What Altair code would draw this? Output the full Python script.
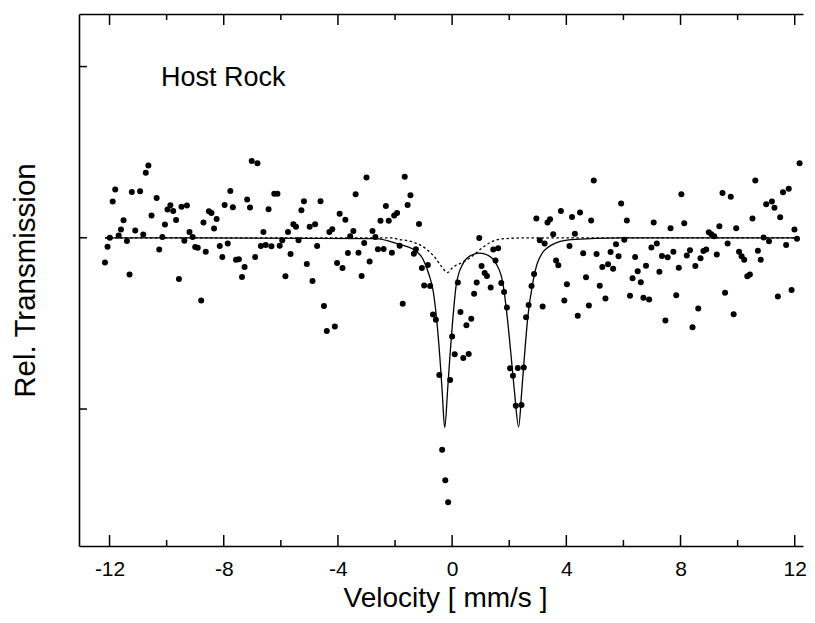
import altair as alt
import pandas as pd

# ---- measured spectrum (velocity in mm/s, transmission relative to baseline, arbitrary units) ----
velocity = [
    -12.16, -12.07, -11.99, -11.89, -11.80, -11.68, -11.60, -11.51, -11.39, -11.30,
    -11.22, -11.10, -10.93, -10.82, -10.73, -10.64, -10.53, -10.35, -10.26, -10.15,
    -10.06, -9.97, -9.87, -9.77, -9.67, -9.57, -9.48, -9.38, -9.29, -9.20,
    -9.09, -9.00, -8.91, -8.79, -8.71, -8.63, -8.52, -8.43, -8.34, -8.25,
    -8.14, -8.05, -7.97, -7.86, -7.77, -7.68, -7.57, -7.47, -7.36, -7.27,
    -7.18, -7.08, -7.02, -6.90, -6.82, -6.70, -6.61, -6.53, -6.43, -6.33,
    -6.23, -6.12, -6.04, -5.95, -5.84, -5.75, -5.66, -5.56, -5.47, -5.38,
    -5.28, -5.19, -5.09, -4.99, -4.89, -4.80, -4.73,
    -4.61, -4.49, -4.39, -4.30, -4.20, -4.11, -4.03, -3.94, -3.84, -3.74,
    -3.65, -3.57, -3.46, -3.38, -3.28, -3.17, -3.08, -3.00, -2.89, -2.79,
    -2.69, -2.60, -2.51, -2.40, -2.32, -2.22, -2.11, -2.03, -1.93, -1.84,
    -1.73, -1.66, -1.56, -1.46, -1.34, -1.27, -1.16, -1.06, -0.98, -0.85,
    -0.77, -0.67, -0.57, -0.45, -0.35, -0.24, -0.14, -0.07, 0.00, 0.09,
    0.20, 0.29, 0.39, 0.50, 0.58, 0.67, 0.77, 0.86, 0.95, 1.03,
    1.14, 1.22, 1.35, 1.44, 1.52, 1.61, 1.72, 1.82, 1.92, 2.03,
    2.13, 2.23, 2.30, 2.43, 2.51, 2.59, 2.68, 2.78, 2.87, 2.95,
    3.07, 3.17, 3.24, 3.34, 3.43, 3.54, 3.64,
    3.72, 3.81, 3.93, 4.02, 4.11, 4.20, 4.30, 4.40, 4.48, 4.59,
    4.69, 4.79, 4.87, 4.96, 5.06, 5.17, 5.26, 5.37, 5.46, 5.55,
    5.64, 5.74, 5.83, 5.92, 6.03, 6.12, 6.23, 6.32, 6.41, 6.50,
    6.61, 6.70, 6.79, 6.90, 6.98, 7.06, 7.17, 7.26, 7.35, 7.47,
    7.55, 7.65, 7.75, 7.85, 7.94, 8.03, 8.13, 8.22, 8.33, 8.42,
    8.52, 8.62, 8.70, 8.80, 8.90, 8.99, 9.08, 9.18, 9.27, 9.36,
    9.47, 9.56, 9.65, 9.76, 9.86, 9.95, 10.05, 10.14, 10.23, 10.34,
    10.43, 10.52, 10.62, 10.71, 10.81, 10.91, 11.00, 11.10, 11.20, 11.29,
    11.41, 11.49, 11.59, 11.70, 11.79, 11.89, 11.99, 12.08, 12.17,
]
transmission = [
    -0.145, -0.052, 0.000, 0.212, 0.282, 0.013, 0.048, 0.102, -0.019, -0.214,
    0.268, 0.042, 0.272, 0.019, 0.380, 0.422, 0.130, 0.233, -0.069, 0.005,
    0.077, 0.165, 0.190, 0.157, 0.104, -0.241, 0.182, -0.017, 0.188, 0.034,
    0.005, -0.054, -0.058, -0.366, 0.089, -0.081, 0.155, 0.145, 0.054, 0.110,
    -0.048, -0.112, 0.192, -0.034, 0.274, 0.179, -0.128, -0.126, -0.229, -0.171,
    0.223, 0.177, 0.448, -0.112, 0.436, -0.048, 0.034, -0.042, 0.167, -0.050,
    0.257, 0.257, -0.046, -0.015, -0.225, 0.034, -0.095, 0.079, 0.065, -0.015,
    0.161, 0.214, -0.153, 0.065, -0.253, 0.079, -0.048,
    0.214, -0.399, -0.544, 0.034, 0.050, -0.518, -0.147, 0.141, -0.177, 0.106,
    -0.089, 0.009, 0.040, 0.255, -0.087, -0.223, -0.030, 0.352, -0.138, 0.040,
    0.005, -0.067, 0.099, -0.065, 0.186, 0.099, -0.087, 0.130, 0.145, -0.046,
    -0.385, 0.356, 0.192, 0.249, -0.093, -0.067, 0.081, -0.177, -0.278, -0.159,
    -0.282, -0.448, -0.479, -0.801, -1.238, -1.416, -1.545, -0.830, -0.577, -0.680,
    -0.261, -0.434, -0.702, -0.511, -0.678, -0.473, -0.327, -0.261, -0.001, -0.165,
    -0.206, -0.223, -0.290, -0.069, -0.132, -0.061, -0.264, -0.317, -0.407, -0.762,
    -0.805, -0.981, -0.760, -0.977, -0.758, -0.464, -0.393, -0.282, -0.212, 0.112,
    -0.015, -0.401, -0.034, 0.089, 0.108, 0.020, -0.132,
    -0.161, 0.157, -0.366, -0.272, -0.048, 0.122, 0.024, -0.456, 0.147, -0.091,
    -0.231, -0.395, 0.101, 0.335, -0.095, -0.280, -0.171, -0.354, -0.155, -0.083,
    -0.181, -0.038, -0.108, 0.200, -0.011, 0.101, -0.339, -0.237, -0.112, -0.196,
    -0.259, -0.350, -0.163, -0.360, -0.056, 0.089, -0.034, -0.198, -0.106, -0.483,
    -0.114, 0.056, -0.081, -0.335, -0.175, 0.255, 0.085, -0.104, -0.073, -0.522,
    -0.165, -0.413, -0.120, -0.077, -0.069, 0.032, 0.020, 0.009, -0.097, 0.067,
    0.261, -0.321, -0.034, 0.239, -0.446, 0.056, -0.081, -0.108, -0.128, -0.225,
    -0.214, 0.112, 0.335, -0.075, -0.128, 0.001, 0.196, -0.020, 0.212, 0.175,
    -0.343, 0.120, 0.266, -0.042, 0.286, -0.305, 0.048, -0.005, 0.436,
]

# ---- fitted envelope (solid) ----
fit_velocity = [
    -12.16, -2.69, -1.85, -1.38, -1.02, -0.82, -0.66, -0.55, -0.43, -0.35,
    -0.26, -0.16, -0.08, 0.01, 0.15, 0.38, 0.67, 0.96, 1.25, 1.54,
    1.78, 1.93, 2.07, 2.18, 2.33, 2.44, 2.53, 2.65, 2.82, 3.00,
    3.46, 4.16, 5.90, 12.10,
]
fit_transmission = [
    0.0, -0.005, -0.038, -0.066, -0.125, -0.21, -0.315, -0.463, -0.698, -0.893,
    -1.108, -0.893, -0.698, -0.503, -0.268, -0.151, -0.102, -0.089, -0.102, -0.151,
    -0.268, -0.463, -0.698, -0.893, -1.104, -0.893, -0.698, -0.463, -0.268, -0.141,
    -0.044, -0.011, 0.0, 0.0,
]

# ---- minor subspectrum (dashed) ----
sub_velocity = [-12.16, -2.11, -1.88, -1.42, -0.95, -0.60, -0.37, -0.16, 0.03, 0.27,
                0.67, 1.02, 1.37, 1.84, 2.76, 12.10]
sub_transmission = [0.0, 0.0, -0.009, -0.022, -0.060, -0.115, -0.168, -0.203, -0.171, -0.151,
                    -0.112, -0.063, -0.024, -0.005, 0.0, 0.0]

major_ticks = [-12, -8, -4, 0, 4, 8, 12]
minor_ticks = [-10, -6, -2, 2, 6, 10]
y_ticks = [-1, 0, 1]

W, H = 724, 532
X_DOMAIN = [-13.07, 12.29]
Y_DOMAIN = [-1.80, 1.307]
FONT = "Liberation Sans"

n = min(len(velocity), len(transmission))
pts = pd.DataFrame({"v": velocity[:n], "t": transmission[:n]})
fit = pd.DataFrame({"v": fit_velocity, "t": fit_transmission})
sub = pd.DataFrame({"v": sub_velocity, "t": sub_transmission})
maj = pd.DataFrame({"v": major_ticks})
mnr = pd.DataFrame({"v": minor_ticks})
yt = pd.DataFrame({"t": y_ticks})

xs = alt.Scale(domain=X_DOMAIN, nice=False, zero=False)
ys = alt.Scale(domain=Y_DOMAIN, nice=False, zero=False)

x_axis = alt.Axis(
    values=major_ticks, labelExpr="'' + datum.value", ticks=False, grid=False,
    domain=True, domainColor="black", domainWidth=1.6,
    labelFont=FONT, labelFontSize=21, labelColor="black", labelPadding=12,
    title="Velocity [ mm/s ]", titleFont=FONT, titleFontSize=28,
    titleFontWeight="normal", titleColor="black",
    titleX=366, titleY=52, titleBaseline="middle", titleAlign="center",
)
y_axis = alt.Axis(
    labels=False, ticks=False, grid=False, domain=True, domainColor="black",
    domainWidth=1.6, title="Rel. Transmission", titleFont=FONT, titleFontSize=29.5,
    titleFontWeight="normal", titleColor="black", titleAngle=270,
    titleX=-54, titleY=266, titleBaseline="middle", titleAlign="center",
)
top_axis = alt.Axis(orient="top", labels=False, ticks=False, grid=False, domain=True,
                    domainColor="black", domainWidth=1.6, title=None)

points = alt.Chart(pts).mark_circle(size=36, color="black", opacity=1).encode(
    x=alt.X("v:Q", scale=xs, axis=x_axis),
    y=alt.Y("t:Q", scale=ys, axis=y_axis),
)
fit_line = alt.Chart(fit).mark_line(color="black", strokeWidth=1.3, interpolate="monotone").encode(
    x=alt.X("v:Q", scale=xs, axis=None), y=alt.Y("t:Q", scale=ys, axis=None))
sub_line = alt.Chart(sub).mark_line(color="black", strokeWidth=1.3, strokeDash=[2.5, 2.5],
                                    interpolate="monotone").encode(
    x=alt.X("v:Q", scale=xs, axis=None), y=alt.Y("t:Q", scale=ys, axis=None))

tick_style = dict(color="black", strokeWidth=1.5)
bot_major = alt.Chart(maj).mark_rule(**tick_style).encode(
    x=alt.X("v:Q", scale=xs, axis=None), y=alt.value(H), y2=alt.value(H - 11))
top_major = alt.Chart(maj).mark_rule(**tick_style).encode(
    x=alt.X("v:Q", scale=xs, axis=top_axis), y=alt.value(0), y2=alt.value(11))
bot_minor = alt.Chart(mnr).mark_rule(**tick_style).encode(
    x=alt.X("v:Q", scale=xs, axis=None), y=alt.value(H), y2=alt.value(H - 6))
top_minor = alt.Chart(mnr).mark_rule(**tick_style).encode(
    x=alt.X("v:Q", scale=xs, axis=None), y=alt.value(0), y2=alt.value(6))
left_ticks = alt.Chart(yt).mark_rule(**tick_style).encode(
    y=alt.Y("t:Q", scale=ys, axis=None), x=alt.value(0), x2=alt.value(8))

label = alt.Chart(pd.DataFrame({"s": ["Host Rock"]})).mark_text(
    font=FONT, fontSize=27, align="left", baseline="middle", color="black"
).encode(text="s:N", x=alt.value(82), y=alt.value(64))

chart = alt.layer(
    points, sub_line, fit_line, bot_major, top_major, bot_minor, top_minor, left_ticks, label
).resolve_axis(x="independent", y="independent").properties(
    width=W, height=H,
    autosize=alt.AutoSizeParams(type="none"),
    padding={"left": 71, "top": 6, "right": 4, "bottom": 69},
    background="white",
).configure_view(stroke=None)

chart.save("out.html", embed_options={"renderer": "svg", "actions": False})
